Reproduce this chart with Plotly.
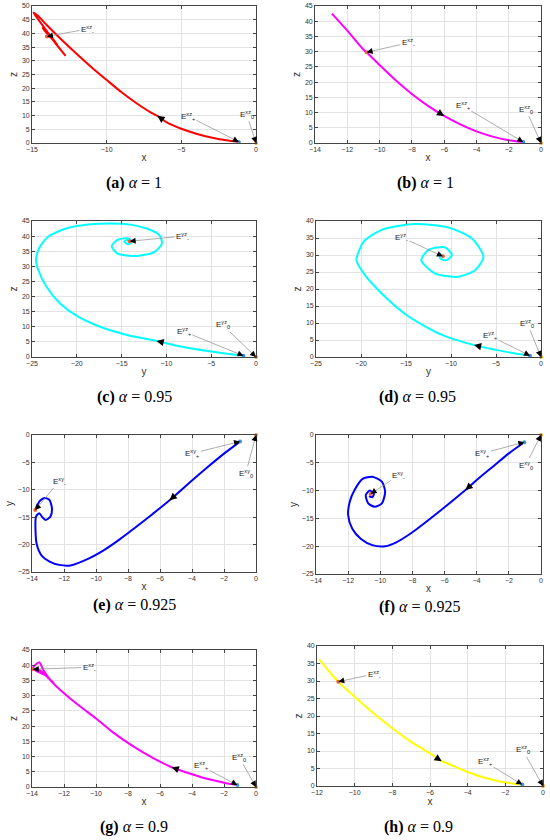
import plotly.graph_objects as go

# values; h = horizontal coord, v = vertical coord of each projection

# (a) x-z plane, alpha = 1
a_h = [-1.15, -2, -3, -4, -5, -6, -6.6, -7, -8, -9, -10, -11, -12, -13, -14, -14.6, -14.9,
       -14.5, -13.9, -13.3, -12.75, -13.4, -14.1, -14.3, -13.6, -13.3, -13.7, -14.05, -13.85, -13.95]
a_v = [0.4, 1.0, 2.0, 3.4, 5.2, 7.6, 9.9, 11.0, 14.5, 18.5, 23.0, 27.6, 32.5, 37.6, 43.0, 46.4, 47.6,
       44.5, 40.0, 35.5, 31.8, 36.2, 41.2, 41.9, 37.6, 35.8, 38.6, 40.3, 39.0, 38.9]

# (b) x-z plane, alpha = 1
b_h = [-12.95, -12, -11, -10.8, -10, -9, -8, -7, -6, -5, -4, -3, -2, -1.1]
b_v = [42.5, 36.9, 30.7, 29.8, 25.6, 20.6, 16.1, 12.2, 8.9, 6.1, 3.8, 2.1, 0.9, 0.3]

# (c) y-z plane, alpha = 0.95
c_h = [-1.4, -3, -5, -8, -11.1, -14.4, -17.4, -20.0, -21.9, -23.4, -24.3, -24.55, -24.2, -23.2,
       -21.1, -18.5, -16.3, -14.0, -12.2, -10.8, -10.5, -11.3, -13.3, -15.5, -16.1, -15.5, -14.4,
       -13.8, -14.25, -14.7, -14.25, -14.1]
c_v = [0.4, 1.0, 1.8, 3.2, 5.3, 7.3, 10.0, 13.6, 17.8, 23.3, 28.8, 32.0, 36.0, 39.8,
       42.6, 43.9, 44.2, 43.8, 42.5, 40.4, 37.6, 34.8, 33.4, 34.3, 36.7, 38.7, 39.3,
       38.2, 37.3, 38.2, 38.8, 38.3]

# (d) y-z plane, alpha = 0.95
d_h = [-1.22, -3, -5, -7.44, -11.0, -14.7, -17.7, -19.7, -20.5, -19.7, -17.7, -14.0, -10.3,
       -7.7, -6.4, -7.3, -9.2, -11.8, -13.3, -12.5, -10.7, -9.9, -10.5, -11.2, -11.2, -10.9]
d_v = [0.4, 1.1, 2.1, 3.5, 6.5, 11.9, 18.7, 24.6, 28.5, 33.9, 37.4, 39.1, 38.1,
       34.9, 29.5, 25.6, 23.6, 24.6, 28.5, 31.5, 32.3, 30.0, 28.5, 28.9, 30.3, 29.6]

# (e) x-y plane, alpha = 0.925
e_h = [-1.0, -2, -3, -4, -5.4, -6.5, -7.5, -8.5, -9.5, -10.5, -11.6, -12.3, -12.9, -13.4,
       -13.7, -13.78, -13.75, -13.55, -13.35, -13.15, -12.85, -12.75, -12.9, -13.2, -13.5,
       -13.7, -13.8]
e_v = [-1.2, -3.4, -5.8, -8.3, -11.9, -14.5, -16.8, -19.0, -21.0, -22.6, -23.8, -23.7, -23.1,
       -22.0, -20.0, -17.5, -14.9, -14.3, -15.0, -15.5, -14.9, -13.5, -11.9, -11.5, -12.0,
       -13.0, -13.7]

# (f) x-y plane, alpha = 0.925
f_h = [-1.04, -2, -3, -4, -4.7, -6, -7, -8, -9, -9.7, -10.5, -11.2, -11.75, -12.0, -11.9,
       -11.6, -11.1, -10.5, -9.9, -9.7, -9.9, -10.35, -10.75, -10.9, -10.65, -10.4, -10.5, -10.7]
f_v = [-1.3, -3.3, -5.7, -8.1, -9.9, -13.0, -15.3, -17.5, -19.3, -20.0, -19.8, -18.7, -16.8,
       -14.4, -12.0, -9.9, -7.9, -7.5, -8.4, -10.2, -12.3, -12.9, -12.3, -10.8, -10.0, -10.6,
       -11.2, -11.0]

# (g) x-z plane, alpha = 0.9
g_h = [-1.17, -2, -3, -4, -5.27, -6, -7, -8, -9, -10, -11, -12, -12.8, -13.3, -13.55,
       -13.95, -13.2, -12.65, -13.0, -13.5, -13.8, -13.6]
g_v = [0.66, 1.4, 2.6, 4.2, 6.5, 8.3, 11.2, 14.5, 18.2, 22.5, 26.5, 30.8, 34.8, 38.5, 41.0,
       38.9, 36.8, 34.2, 36.0, 38.3, 38.8, 38.6]

# (h) x-z plane, alpha = 0.9
h_h = [-11.88, -11, -10.87, -10, -9, -8, -7, -6, -5.38, -5, -4, -3, -2, -1.1]
h_v = [36.2, 30.5, 29.8, 25.5, 20.8, 16.5, 12.6, 9.3, 7.1, 6.3, 4.0, 2.2, 1.0, 0.4]

# equilibria in each projection: E0, E+, E-
eq_zero = [0, 0]
eq_plus = {'a': [-1.15, 0.4], 'b': [-1.1, 0.3], 'c': [-1.4, 0.4], 'd': [-1.22, 0.4],
           'e': [-1.0, -1.2], 'f': [-1.04, -1.3], 'g': [-1.17, 0.66], 'h': [-1.1, 0.4]}
eq_minus = {'a': [-14.0, 38.9], 'b': [-10.8, 29.8], 'c': [-14.1, 38.3], 'd': [-10.9, 29.6],
            'e': [-13.8, -13.7], 'f': [-10.6, -10.6], 'g': [-13.95, 38.7], 'h': [-10.87, 29.8]}
# index of curve point carrying the flow-direction arrow
flow_idx = {'a': 6, 'b': 8, 'c': 4, 'd': 3, 'e': 4, 'f': 4, 'g': 4, 'h': 8}
alphas = {'a': '1', 'b': '1', 'c': '0.95', 'd': '0.95', 'e': '0.925', 'f': '0.925', 'g': '0.9', 'h': '0.9'}

W, H = 550, 840
panels = [
    dict(k='a', h=a_h, v=a_v, c='#ff0000', box=(32, 6, 256, 143), xr=[-15, 0], yr=[0, 50], dx=5,
         lab=('x', 'z'), pl='xz', tm=(-11.3, 41.6), tp=(-4.55, 9.85), t0=(-0.62, 10.5), cap=(134, 183)),
    dict(k='b', h=b_h, v=b_v, c='#ff00ff', box=(315, 6, 541, 143), xr=[-14, 0], yr=[0, 45], dx=2,
         lab=('x', 'z'), pl='xz', tm=(-8.22, 32.9), tp=(-4.85, 12.2), t0=(-0.95, 11.1), cap=(425, 183)),
    dict(k='c', h=c_h, v=c_v, c='#00ffff', box=(32, 221, 256, 357), xr=[-25, 0], yr=[0, 45], dx=5,
         lab=('y', 'z'), pl='yz', tm=(-8.18, 40.0), tp=(-8.04, 8.4), t0=(-3.72, 10.6), cap=(134, 397)),
    dict(k='d', h=d_h, v=d_v, c='#00ffff', box=(316, 221, 541, 357), xr=[-25, 0], yr=[0, 40], dx=5,
         lab=('y', 'z'), pl='yz', tm=(-15.5, 35.2), tp=(-5.67, 6.2), t0=(-1.52, 9.9), cap=(417, 397)),
    dict(k='e', h=e_h, v=e_v, c='#0000ff', box=(32, 435, 256, 572), xr=[-14, 0], yr=[-25, 0], dx=2,
         lab=('x', 'y'), pl='xy', tm=(-12.29, -8.4), tp=(-3.98, -3.35), t0=(-0.64, -7.0), cap=(134, 605)),
    dict(k='f', h=f_h, v=f_v, c='#0000ff', box=(316, 435, 541, 574), xr=[-14, 0], yr=[-25, 0], dx=2,
         lab=('x', 'y'), pl='xy', tm=(-8.84, -7.2), tp=(-3.65, -3.3), t0=(-0.95, -5.4), cap=(419, 607)),
    dict(k='g', h=g_h, v=g_v, c='#ff00ff', box=(32, 650, 256, 787), xr=[-14, 0], yr=[0, 45], dx=2,
         lab=('x', 'z'), pl='xz', tm=(-10.42, 39.3), tp=(-3.44, 6.9), t0=(-1.06, 9.8), cap=(134, 827)),
    dict(k='h', h=h_h, v=h_v, c='#ffff00', box=(317, 646, 543, 786), xr=[-12, 0], yr=[0, 40], dx=2,
         lab=('x', 'z'), pl='xz', tm=(-8.97, 32.0), tp=(-3.08, 6.9), t0=(-1.08, 10.3), cap=(418, 827)),
]

tick_font = dict(family='Liberation Sans', size=7, color='#333333')
title_font = dict(family='Liberation Sans', size=10, color='#333333')
fig = go.Figure()
layout = {}

for i, p in enumerate(panels):
    n = '' if i == 0 else str(i + 1)
    xa, ya = 'x' + n, 'y' + n
    x0, y0, x1, y1 = p['box']
    pw, ph = x1 - x0, y1 - y0
    axis_common = dict(showline=True, linecolor='#444444', linewidth=0.8, mirror='ticks',
                       ticks='inside', ticklen=3, tickcolor='#444444', tickwidth=0.6,
                       showgrid=True, gridcolor='#e3e3e3', gridwidth=0.6, zeroline=False,
                       tickfont=tick_font, fixedrange=True, automargin=False,
                       ticklabeloverflow='allow')
    layout['xaxis' + n] = dict(axis_common, domain=[x0 / W, x1 / W], anchor=ya, range=p['xr'],
                               dtick=p['dx'], tick0=0,
                               title=dict(text=p['lab'][0], standoff=1, font=title_font))
    layout['yaxis' + n] = dict(axis_common, domain=[1 - y1 / H, 1 - y0 / H], anchor=xa, range=p['yr'],
                               dtick=5, tick0=0,
                               title=dict(text=p['lab'][1], standoff=2, font=title_font))

    fig.add_trace(go.Scatter(x=p['h'], y=p['v'], xaxis=xa, yaxis=ya, mode='lines',
                             line=dict(color=p['c'], width=2, shape='spline', smoothing=0.7),
                             showlegend=False, hoverinfo='skip'))
    ep, em = eq_plus[p['k']], eq_minus[p['k']]
    fig.add_trace(go.Scatter(x=[eq_zero[0], ep[0], em[0]], y=[eq_zero[1], ep[1], em[1]],
                             xaxis=xa, yaxis=ya, mode='markers', cliponaxis=False,
                             marker=dict(size=4, color=['#f0a030', '#3d8fe0', '#f06040']),
                             showlegend=False, hoverinfo='skip'))

    sx = pw / (p['xr'][1] - p['xr'][0])
    sy = ph / (p['yr'][1] - p['yr'][0])

    # labelled equilibria: grey leader with black head
    for tip, txt, sub in [(em, p['tm'], '-'), (ep, p['tp'], '+'), (eq_zero, p['t0'], '0')]:
        fig.add_annotation(x=tip[0], y=tip[1], ax=txt[0], ay=txt[1], xref=xa, yref=ya,
                           axref=xa, ayref=ya, showarrow=True, arrowhead=0, arrowwidth=0.7,
                           arrowcolor='#8a8a8a',
                           text='E<sup>%s</sup><sub>%s</sub>' % (p['pl'], sub),
                           font=dict(family='Liberation Sans', size=8, color='#222222'))
        ddx, ddy = (txt[0] - tip[0]) * sx, (txt[1] - tip[1]) * sy
        L = (ddx ** 2 + ddy ** 2) ** 0.5
        f = 7.0 / L
        fig.add_annotation(x=tip[0], y=tip[1], ax=tip[0] + f * (txt[0] - tip[0]),
                           ay=tip[1] + f * (txt[1] - tip[1]), xref=xa, yref=ya, axref=xa, ayref=ya,
                           showarrow=True, arrowhead=2, arrowsize=1.0, arrowwidth=1.2,
                           arrowcolor='black', text='')

    # flow direction arrow on the trajectory
    k = flow_idx[p['k']]
    hx, hy = p['h'][k], p['v'][k]
    px_, py_ = p['h'][k - 1], p['v'][k - 1]
    ddx, ddy = (px_ - hx) * sx, (py_ - hy) * sy
    L = (ddx ** 2 + ddy ** 2) ** 0.5
    f = 5.0 / L
    fig.add_annotation(x=hx, y=hy, ax=hx + f * (px_ - hx), ay=hy + f * (py_ - hy), xref=xa, yref=ya,
                       axref=xa, ayref=ya, showarrow=True, arrowhead=2, arrowsize=1.2,
                       arrowwidth=1.2, arrowcolor='black', text='')

    # caption
    fig.add_annotation(x=p['cap'][0] / W, y=1 - p['cap'][1] / H, xref='paper', yref='paper',
                       xanchor='center', yanchor='middle', showarrow=False,
                       text='<b>(%s)</b> <i>α</i> = %s' % (p['k'], alphas[p['k']]),
                       font=dict(family='Liberation Serif', size=16, color='black'))

fig.update_layout(**layout)
fig.update_layout(width=W, height=H, margin=dict(l=0, r=0, t=0, b=0, autoexpand=False),
                  plot_bgcolor='white', paper_bgcolor='white', showlegend=False)
# page body has a default 8px margin; drop it so the figure sits at the window origin
fig.write_html("out.html", config={'displayModeBar': False},
               post_script="document.body.style.margin = '0px';")
